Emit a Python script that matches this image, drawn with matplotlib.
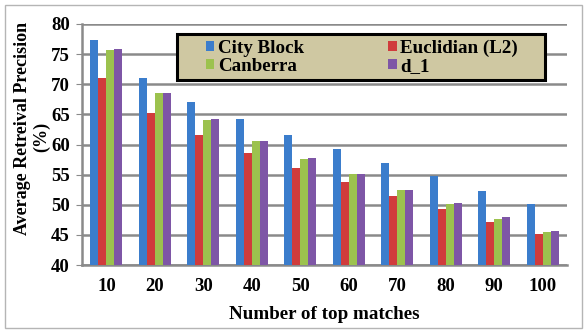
import numpy as np
import matplotlib
matplotlib.use("Agg")
import matplotlib.pyplot as plt
from matplotlib.patches import Rectangle

# precision (%) for each distance measure vs. number of top matches
matches = [10, 20, 30, 40, 50, 60, 70, 80, 90, 100]
city_block = [77.3, 71.0, 67.1, 64.2, 61.6, 59.2, 56.9, 54.7, 52.3, 50.1]
euclidian = [71.0, 65.2, 61.6, 58.6, 56.1, 53.8, 51.4, 49.3, 47.2, 45.2]
canberra = [75.7, 68.5, 64.1, 60.6, 57.6, 55.1, 52.5, 50.2, 47.7, 45.5]
d_1 = [75.9, 68.5, 64.3, 60.6, 57.8, 55.1, 52.5, 50.3, 47.9, 45.7]

series = [
    ("City Block", city_block, "#3b7dcc"),
    ("Euclidian (L2)", euclidian, "#d03c3c"),
    ("Canberra", canberra, "#9cc24e"),
    ("d_1", d_1, "#7e56a6"),
]

plt.rcParams["font.family"] = ["Liberation Serif", "DejaVu Serif"]
plt.rcParams["font.weight"] = "bold"

fig = plt.figure(figsize=(5.87, 3.33), dpi=100)
ax = fig.add_axes([0.14, 0.204, 0.826, 0.724])

x = np.arange(len(matches))
w = 0.165
bars = []
for i, (name, vals, col) in enumerate(series):
    b = ax.bar(x + (i - 1.5) * w, np.array(vals) - 40, bottom=40, width=w,
               color=col, label=name, zorder=3)
    bars.append(b)

ax.set_ylim(40, 80)
ax.set_xlim(-0.5, len(matches) - 0.5)
ax.set_yticks(range(40, 81, 5))
ax.set_xticks(x)
ax.set_xticklabels([str(m) for m in matches])
ax.yaxis.grid(True, color="#8a8a8a", linewidth=1.8, zorder=0)
ax.set_axisbelow(True)

for s in ["top", "right"]:
    ax.spines[s].set_visible(False)
for s in ["left", "bottom"]:
    ax.spines[s].set_color("#8a8a8a")
    ax.spines[s].set_linewidth(1.8)

ax.tick_params(axis="y", length=4, color="#8a8a8a", labelsize=13.5, pad=5)
ax.tick_params(axis="x", length=0, labelsize=13.5, pad=9)

# y label in two separate lines so the unit sits next to the ticks
fig.text(0.0375, 0.615, "Average Retreival Precision", rotation=90,
         ha="center", va="center", fontsize=13, fontweight="bold")
fig.text(0.071, 0.589, "(%)", rotation=90, ha="center", va="center",
         fontsize=13, fontweight="bold")
ax.set_xlabel("Number of top matches", fontsize=13.7, fontweight="bold",
              labelpad=8)

# legend box: khaki fill with a heavy black border
ax.add_patch(Rectangle((0.196, 0.768), 0.759, 0.19, transform=ax.transAxes,
                       facecolor="#cfc8a2", edgecolor="black",
                       linewidth=2.2, zorder=4))

handles = [bars[0], bars[2], bars[1], bars[3]]
labels = [series[0][0], series[2][0], series[1][0], series[3][0]]
leg = ax.legend(handles, labels, ncol=2, loc="center",
                bbox_to_anchor=(0.577, 0.863), fontsize=13.7,
                frameon=False, handlelength=0.45, handleheight=0.45,
                handletextpad=0.2, columnspacing=4.4,
                labelspacing=0.05, borderpad=0.0, borderaxespad=0)
leg.set_zorder(5)

# light outer frame around the whole chart
fig.patches.append(Rectangle((0.009, 0.015), 0.982, 0.97,
                             transform=fig.transFigure, fill=False,
                             edgecolor="#b5b5b5", linewidth=1.0))

fig.savefig("out.png", dpi=100)
